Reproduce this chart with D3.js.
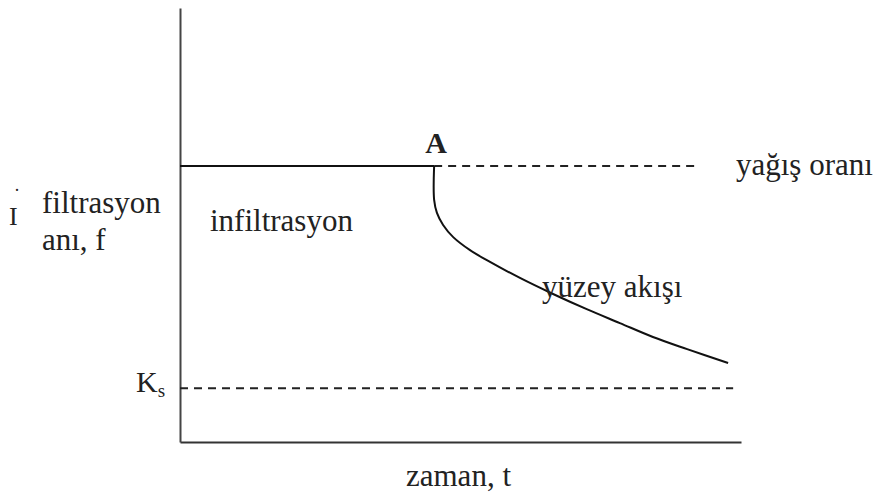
<!DOCTYPE html>
<html lang="tr">
<head>
    <meta charset="UTF-8">
    <script src="https://d3js.org/d3.v7.min.js"></script>
    <title>İnfiltrasyon</title>
    <style>
        body { margin: 0; background: #fff; }
        text { font-family: "Liberation Serif", "Times New Roman", serif; fill: #222; }
    </style>
</head>
<body>
<script>
    // values in chart units (t on x, rate on y, both 0..10)
    var rainRate = 6.36        // yağış oranı
    var pondingTime = 4.53     // point A
    var rainEnd = 9.18         // end of dashed rain line
    var ksRate = 1.24          // K_s
    var ksEnd = 9.86
    var curveT = [4.53, 4.53, 4.58, 4.69, 4.87, 5.17, 5.47, 6.06, 6.65, 7.25, 7.84, 8.43, 9.04, 9.77]
    var curveF = [6.36, 5.58, 5.28, 5.00, 4.72, 4.42, 4.19, 3.78, 3.41, 3.06, 2.74, 2.42, 2.14, 1.82]

    var width = 880
    var height = 493

    var x = d3.scaleLinear().domain([0, 10]).range([180, 741])
    var y = d3.scaleLinear().domain([0, 10]).range([442, 8])

    var svg = d3.select("body")
        .append("svg")
        .attr("width", width)
        .attr("height", height)

    // axes (no ticks, just the two lines)
    svg.append("g")
        .attr("transform", "translate(0," + y(0) + ")")
        .call(d3.axisBottom(x).ticks(0).tickSizeOuter(0))
        .call(function (g) { g.select(".domain").attr("stroke", "#333").attr("stroke-width", 2.2) })
    svg.append("g")
        .attr("transform", "translate(" + x(0) + ",0)")
        .call(d3.axisLeft(y).ticks(0).tickSizeOuter(0))
        .call(function (g) { g.select(".domain").attr("stroke", "#444").attr("stroke-width", 2) })

    var line = d3.line()
        .x(function (d) { return x(d[0]) })
        .y(function (d) { return y(d[1]) })

    // rain rate before ponding
    svg.append("path")
        .attr("d", line([[0, rainRate], [pondingTime, rainRate]]))
        .attr("fill", "none")
        .attr("stroke", "#111")
        .attr("stroke-width", 2)

    // rain rate after ponding (dashed)
    svg.append("path")
        .attr("d", line([[pondingTime, rainRate], [rainEnd, rainRate]]))
        .attr("fill", "none")
        .attr("stroke", "#222")
        .attr("stroke-width", 2)
        .attr("stroke-dasharray", "8,6")

    // Ks (dashed)
    svg.append("path")
        .attr("d", line([[0, ksRate], [ksEnd, ksRate]]))
        .attr("fill", "none")
        .attr("stroke", "#222")
        .attr("stroke-width", 2)
        .attr("stroke-dasharray", "8,6")

    // infiltration capacity curve after ponding
    var pts = curveT.map(function (t, i) { return [t, curveF[i]] })
    svg.append("path")
        .attr("d", line.curve(d3.curveCatmullRom.alpha(0.5))(pts))
        .attr("fill", "none")
        .attr("stroke", "#111")
        .attr("stroke-width", 2)

    // labels
    svg.append("text")
        .attr("x", x(pondingTime) + 2)
        .attr("y", y(rainRate) - 13)
        .attr("text-anchor", "middle")
        .attr("font-size", 30)
        .attr("font-weight", "bold")
        .text("A")

    svg.append("text").attr("x", 736).attr("y", 175).attr("font-size", 31).text("yağış oranı")
    svg.append("text").attr("x", 210).attr("y", 231).attr("font-size", 31).text("infiltrasyon")
    svg.append("text").attr("x", 542).attr("y", 297).attr("font-size", 31).text("yüzey akışı")
    svg.append("text").attr("x", 42).attr("y", 213).attr("font-size", 31).text("filtrasyon")
    svg.append("text").attr("x", 42).attr("y", 250).attr("font-size", 31).text("anı, f")
    svg.append("text").attr("x", 9).attr("y", 225).attr("font-size", 26).text("I")
    svg.append("text").attr("x", 17).attr("y", 196).attr("font-size", 18)
        .attr("text-anchor", "middle").text("·")
    svg.append("text").attr("x", (x(0) + x(10)) / 2 - 2).attr("y", 486)
        .attr("text-anchor", "middle").attr("font-size", 31).text("zaman, t")

    var ks = svg.append("text").attr("x", 136).attr("y", y(ksRate) + 4).attr("font-size", 30)
    ks.append("tspan").text("K")
    ks.append("tspan").attr("font-size", 19).attr("dy", 5).text("s")
</script>
</body>
</html>
